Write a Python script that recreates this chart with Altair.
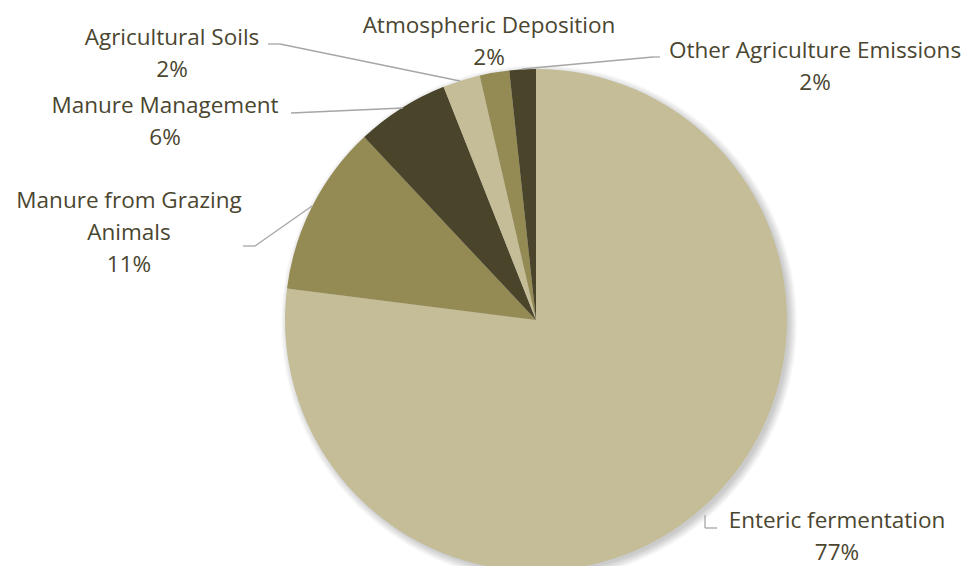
import altair as alt
import pandas as pd

# ---- data ----
categories = ["Enteric fermentation", "Manure from Grazing Animals", "Manure Management",
              "Agricultural Soils", "Atmospheric Deposition", "Other Agriculture Emissions"]
shares = [77.0, 11.0, 6.0, 2.4, 1.9, 1.7]
pct_labels = ["77%", "11%", "6%", "2%", "2%", "2%"]
label_lines = [["Enteric fermentation"], ["Manure from Grazing", "Animals"], ["Manure Management"],
               ["Agricultural Soils"], ["Atmospheric Deposition"], ["Other Agriculture Emissions"]]

# ---- styles / layout ----
colors = ["#C4BD97", "#948A54", "#4A452A", "#C4BD97", "#948A54", "#4A452A"]
W, H = 958, 558
CX, CY, R = 528, 312, 251
FONT = "Open Sans"
FS = 22.5
TXT = "#4A4630"
LINE = "#A6A6A6"

# label anchor: (center x, first-line baseline y)
label_pos = [(829, 520), (121, 200), (157, 105), (164, 37), (481, 25), (807, 50)]
# leader polylines (plot coords)
leaders = [
    [(697, 507), (697, 520), (709, 520)],
    [(235, 238), (247, 238), (304, 198)],
    [(283, 105), (395, 100)],
    [(260, 36), (272, 36), (452, 73)],
    [],
    [(514, 61), (645, 49), (652, 49)],
]

df = pd.DataFrame({"category": categories, "share": shares, "order": list(range(len(categories)))})
one = pd.DataFrame({"k": [0]})

layers = []

# soft shadow
for k in range(1, 10):
    layers.append(
        alt.Chart(one).mark_arc(radius=R + k - 2, theta=0, theta2=6.2832, color="black", opacity=0.022)
        .encode(x=alt.value(CX + 3), y=alt.value(CY + 3))
    )

pie = alt.Chart(df).mark_arc(radius=R).encode(
    theta=alt.Theta("share:Q", stack=True),
    color=alt.Color("category:N", scale=alt.Scale(domain=categories, range=colors), legend=None),
    order=alt.Order("order:Q"),
    x=alt.value(CX),
    y=alt.value(CY),
)
layers.append(pie)

for pts in leaders:
    for (x1, y1), (x2, y2) in zip(pts[:-1], pts[1:]):
        layers.append(
            alt.Chart(one).mark_rule(color=LINE, strokeWidth=1.3)
            .encode(x=alt.value(x1), y=alt.value(y1), x2=alt.value(x2), y2=alt.value(y2))
        )

for lines, pct, (lx, ly) in zip(label_lines, pct_labels, label_pos):
    layers.append(
        alt.Chart(one).mark_text(
            text=lines + [pct], align="center", baseline="alphabetic", lineHeight=32,
            font=FONT, fontSize=FS, color=TXT,
        ).encode(x=alt.value(lx), y=alt.value(ly))
    )

chart = alt.layer(*layers).properties(
    width=W, height=H, autosize=alt.AutoSizeParams(type="none"), padding=0
).configure_view(stroke=None)

chart.save("out.html", embed_options={"renderer": "svg", "actions": False})
